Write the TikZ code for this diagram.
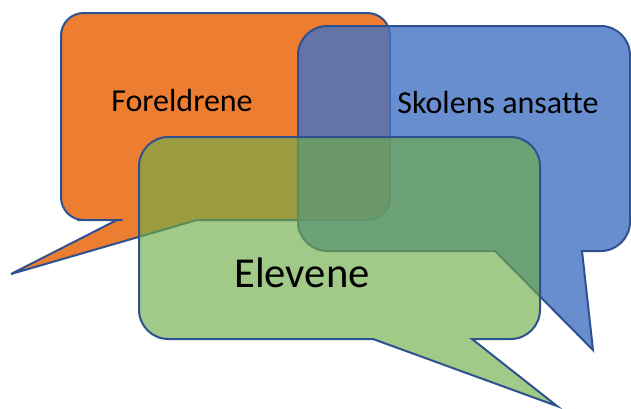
\documentclass[tikz,border=0pt]{standalone}
\usepackage{fontspec}
\setmainfont{Carlito}[Ligatures={NoCommon}]
\definecolor{foreldreorange}{HTML}{ED7D31}
\definecolor{ansattblue}{HTML}{4472C4}
\definecolor{elevgreen}{HTML}{70AD47}
\definecolor{bubbleline}{HTML}{2F528F}
\begin{document}
\begin{tikzpicture}[x=0.75pt, y=-0.75pt]

    \tikzset{%
    every bubble/.style={
        draw=bubbleline,
        line width=1.5pt,
        line join=miter
        },
    bubble text/.style={
        text=black,
        inner sep=0pt,
        font=\fontsize{24}{28}\selectfont
        },
    }

    % Canvas
    \useasboundingbox [fill=white] (0,0) rectangle (631,408);

    % Foreldrene bubble
    \path [every bubble, fill=foreldreorange]
        (100,220) [sharp corners] -- (117,220) -- (11,274) -- (197,220) -- (300,220)
        [rounded corners=17pt] -- (390,220) -- (390,13) -- (61,13) -- (61,220) -- cycle;

    % Skolens ansatte bubble
    \path [every bubble, fill=ansattblue, fill opacity=0.8]
        (450,251) [sharp corners] -- (495,251) -- (593,350) -- (582,251) -- (600,251)
        [rounded corners=22pt] -- (630,251) -- (630,26) -- (298,26) -- (298,251) -- cycle;

    % Elevene bubble
    \path [every bubble, fill=elevgreen, fill opacity=0.65]
        (330,339) [sharp corners] -- (373,339) -- (557,406) -- (472,339) -- (500,339)
        [rounded corners=22pt] -- (540,339) -- (540,137) -- (139,137) -- (139,339) -- cycle;

    % Labels
    \node [bubble text] (foreldre) at (182,100) {Foreldrene};
    \node [bubble text] (ansatte) at (498,103) {Skolens ansatte};
    \node [bubble text, font=\fontsize{32}{36}\selectfont] (elever) at (302,273) {Elevene};

\end{tikzpicture}
\end{document}
